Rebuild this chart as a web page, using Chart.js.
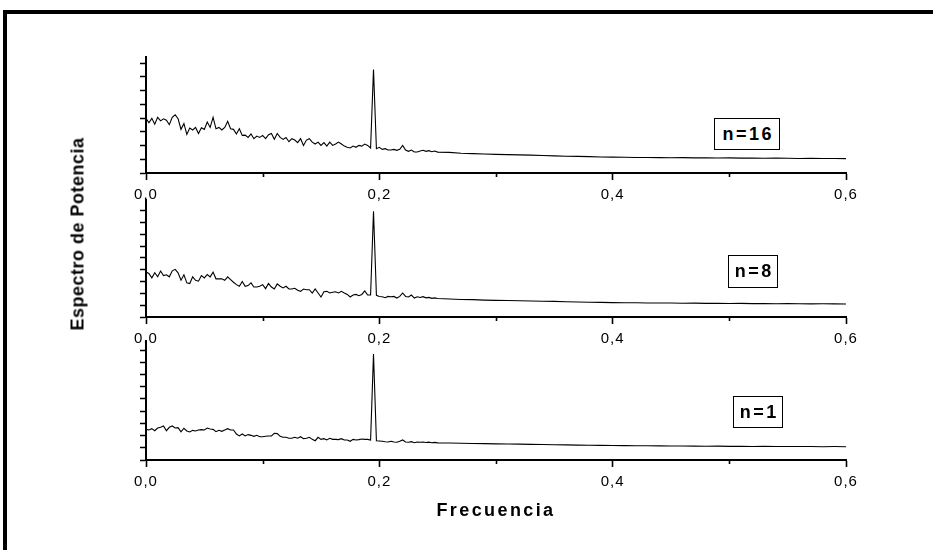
<!DOCTYPE html>
<html lang="es">
<head>
<meta charset="UTF-8" />
<title>Espectro de Potencia</title>
<script src="https://cdn.jsdelivr.net/npm/chart.js"></script>
<style>
  html, body { margin: 0; background: #fff; font-family: "Liberation Sans", Arial, sans-serif; overflow: hidden; }
  #stage { position: relative; width: 933px; height: 550px; overflow: hidden; }
  .bar { position: absolute; background: #000; }
  canvas.panel { position: absolute; left: 0; }
  .title { position: absolute; font-weight: bold; white-space: nowrap; color: #000; }
  .nbox { position: absolute; box-sizing: border-box; border: 1.5px solid #000; background: #fff;
          display: flex; align-items: center; justify-content: center;
          font-weight: bold; font-size: 18px; letter-spacing: 2.5px; padding-left: 2.5px; }
</style>
</head>
<body>
<div id="stage">
  <div class="bar" style="left:3px; top:10px; width:930px; height:4px;"></div>
  <div class="bar" style="left:3px; top:10px; width:4px; height:540px;"></div>
  <canvas id="p16" class="panel" width="933" height="166" style="top:47px"></canvas>
  <canvas id="p8" class="panel" width="933" height="167" style="top:190px"></canvas>
  <canvas id="p1" class="panel" width="933" height="169" style="top:331px"></canvas>

  <div class="title" style="left:78px; top:234px; font-size:18px; letter-spacing:0.5px; transform:translate(-50%,-50%) rotate(-90deg);">Espectro de Potencia</div>
  <div class="title" style="left:496px; top:510px; font-size:18px; letter-spacing:2.4px; transform:translate(-50%,-50%);">Frecuencia</div>

  <div class="nbox" style="left:714px; top:118px; width:66px; height:32px;">n=16</div>
  <div class="nbox" style="left:728px; top:255px; width:50px; height:33px;">n=8</div>
  <div class="nbox" style="left:733px; top:396px; width:50px; height:32px;">n=1</div>
</div>

<script>
  // frequency samples (same for the three spectra)
  const freq = [
    0, 0.0025, 0.005, 0.0075, 0.01, 0.0125, 0.015, 0.0175, 0.02, 0.0225,
    0.025, 0.0275, 0.03, 0.0325, 0.035, 0.0375, 0.04, 0.0425, 0.045, 0.0475,
    0.05, 0.0525, 0.055, 0.0575, 0.06, 0.0625, 0.065, 0.0675, 0.07, 0.0725,
    0.075, 0.0775, 0.08, 0.0825, 0.085, 0.0875, 0.09, 0.0925, 0.095, 0.0975,
    0.1, 0.1025, 0.105, 0.1075, 0.11, 0.1125, 0.115, 0.1175, 0.12, 0.1225,
    0.125, 0.1275, 0.13, 0.1325, 0.135, 0.1375, 0.14, 0.1425, 0.145, 0.1475,
    0.15, 0.1525, 0.155, 0.1575, 0.16, 0.1625, 0.165, 0.1675, 0.17, 0.1725,
    0.175, 0.1775, 0.18, 0.1825, 0.185, 0.1875, 0.19, 0.1925, 0.195, 0.1975,
    0.2, 0.2025, 0.205, 0.2075, 0.21, 0.2125, 0.215, 0.2175, 0.22, 0.2225,
    0.225, 0.2275, 0.23, 0.2325, 0.235, 0.2375, 0.24, 0.2425, 0.245, 0.2475,
    0.25,
    0.26, 0.27, 0.28, 0.29, 0.30, 0.31, 0.32, 0.33, 0.34, 0.35,
    0.36, 0.37, 0.38, 0.39, 0.40, 0.41, 0.42, 0.43, 0.44, 0.45,
    0.46, 0.47, 0.48, 0.49, 0.50, 0.51, 0.52, 0.53, 0.54, 0.55,
    0.56, 0.57, 0.58, 0.59, 0.60
  ];

  const power16 = [
    3.98, 3.66, 3.98, 3.56, 4.05, 3.80, 3.95, 3.85, 3.52, 4.05,
    4.24, 3.95, 3.18, 3.61, 2.81, 3.27, 3.13, 3.32, 2.88, 3.30,
    3.18, 3.71, 3.32, 4.05, 3.22, 3.32, 3.13, 3.32, 3.76, 3.22,
    3.18, 2.84, 3.22, 2.74, 2.76, 2.59, 2.84, 2.50, 2.69, 2.59,
    2.74, 2.50, 2.79, 2.88, 2.45, 2.88, 2.59, 2.45, 2.59, 2.28,
    2.50, 2.40, 2.21, 2.50, 2.01, 2.40, 2.50, 2.25, 2.11, 2.25,
    2.01, 2.21, 1.96, 2.25, 2.01, 2.11, 2.25, 2.11, 1.96, 1.87,
    1.82, 1.96, 1.87, 2.01, 1.96, 2.11, 2.01, 1.82, 7.54, 1.77,
    1.87, 1.72, 1.77, 1.67, 1.67, 1.72, 1.65, 1.72, 2.01, 1.67,
    1.58, 1.67, 1.53, 1.53, 1.60, 1.66, 1.58, 1.63, 1.55, 1.60,
    1.52,
    1.50, 1.44, 1.41, 1.38, 1.36, 1.34, 1.32, 1.30, 1.27, 1.25,
    1.22, 1.21, 1.19, 1.17, 1.16, 1.15, 1.13, 1.13, 1.12, 1.11,
    1.12, 1.10, 1.10, 1.09, 1.10, 1.08, 1.08, 1.07, 1.08, 1.07,
    1.06, 1.07, 1.06, 1.06, 1.05
  ];

  const power8 = [
    3.80, 3.69, 3.31, 3.74, 3.40, 3.89, 3.51, 3.57, 3.40, 3.91,
    4.03, 3.74, 3.11, 3.57, 2.89, 2.83, 3.40, 3.11, 3.03, 3.51,
    3.31, 3.60, 3.40, 3.80, 3.23, 3.23, 3.23, 3.11, 3.40, 3.17,
    2.94, 2.74, 2.60, 3.00, 2.60, 2.66, 2.89, 2.54, 2.54, 2.60,
    2.74, 2.40, 2.83, 2.54, 2.37, 2.80, 2.60, 2.46, 2.60, 2.37,
    2.37, 2.43, 2.26, 2.17, 2.37, 2.31, 2.31, 2.03, 2.37, 2.03,
    1.69, 2.14, 2.17, 2.03, 2.09, 2.14, 2.03, 2.17, 2.03, 1.91,
    1.69, 1.86, 1.91, 1.80, 1.91, 2.20, 1.86, 1.86, 8.94, 1.83,
    1.74, 1.71, 1.63, 1.74, 1.71, 1.74, 1.60, 1.74, 2.03, 1.74,
    1.69, 1.86, 1.60, 1.71, 1.65, 1.72, 1.62, 1.66, 1.58, 1.62,
    1.57,
    1.52, 1.48, 1.47, 1.43, 1.41, 1.40, 1.37, 1.35, 1.33, 1.32,
    1.29, 1.27, 1.25, 1.24, 1.22, 1.21, 1.20, 1.19, 1.18, 1.18,
    1.16, 1.17, 1.15, 1.15, 1.14, 1.15, 1.13, 1.13, 1.12, 1.13,
    1.12, 1.11, 1.12, 1.11, 1.10
  ];

  const power1 = [
    2.51, 2.46, 2.57, 2.40, 2.62, 2.68, 2.79, 2.40, 2.68, 2.79,
    2.62, 2.65, 2.30, 2.60, 2.38, 2.30, 2.43, 2.38, 2.46, 2.49,
    2.46, 2.62, 2.54, 2.51, 2.32, 2.43, 2.35, 2.46, 2.57, 2.46,
    2.46, 2.13, 1.97, 2.13, 1.97, 2.08, 2.02, 1.94, 2.02, 1.91,
    1.91, 1.94, 1.97, 1.97, 2.19, 2.16, 1.94, 1.86, 1.86, 1.78,
    1.78, 1.86, 1.78, 1.91, 1.75, 1.78, 1.86, 1.69, 1.58, 1.86,
    1.69, 1.75, 1.64, 1.78, 1.69, 1.69, 1.67, 1.75, 1.64, 1.64,
    1.53, 1.69, 1.64, 1.67, 1.72, 1.69, 1.69, 1.64, 8.69, 1.58,
    1.56, 1.53, 1.50, 1.48, 1.53, 1.48, 1.45, 1.53, 1.64, 1.48,
    1.45, 1.50, 1.42, 1.48, 1.45, 1.48, 1.43, 1.46, 1.41, 1.44,
    1.40,
    1.39, 1.37, 1.35, 1.34, 1.32, 1.31, 1.30, 1.28, 1.27, 1.25,
    1.24, 1.22, 1.21, 1.20, 1.19, 1.18, 1.17, 1.17, 1.16, 1.15,
    1.15, 1.14, 1.13, 1.14, 1.12, 1.12, 1.11, 1.12, 1.11, 1.10,
    1.10, 1.11, 1.09, 1.10, 1.09
  ];

  const minorFreq = [0.1, 0.3, 0.5];
  const FONT = '"Liberation Sans", Arial, sans-serif';

  const isMajor = v => Math.round(v * 10) % 2 === 0;

  // short minor ticks on the frequency axis + spaced tick labels
  const axisExtras = {
    id: 'axisExtras',
    beforeDraw(chart) {
      chart.ctx.letterSpacing = '1px';
    },
    afterDraw(chart) {
      const { ctx, chartArea, scales } = chart;
      ctx.letterSpacing = '0px';
      ctx.save();
      ctx.strokeStyle = '#000';
      ctx.lineWidth = 1.6;
      minorFreq.forEach(v => {
        const px = Math.round(scales.x.getPixelForValue(v)) + 0.5;
        ctx.beginPath();
        ctx.moveTo(px, chartArea.bottom);
        ctx.lineTo(px, chartArea.bottom + 4);
        ctx.stroke();
      });
      ctx.restore();
    }
  };

  function makePanel(id, power, yMax) {
    new Chart(document.getElementById(id), {
      type: 'line',
      data: {
        datasets: [{
          data: freq.map((f, i) => ({ x: f, y: power[i] })),
          borderColor: '#000',
          borderWidth: 1.1,
          pointRadius: 0,
          tension: 0,
          fill: false
        }]
      },
      options: {
        responsive: false,
        animation: false,
        layout: { padding: { left: 100, right: 87, top: 10, bottom: 0 } },
        plugins: { legend: { display: false }, tooltip: { enabled: false } },
        scales: {
          x: {
            type: 'linear',
            min: 0,
            max: 0.6,
            afterFit: s => { s.height = 40; },
            ticks: {
              stepSize: 0.1,
              autoSkip: false,
              maxRotation: 0,
              padding: 6,
              color: '#000',
              font: { family: FONT, size: 15 },
              callback: v => isMajor(v) ? v.toFixed(1).replace('.', ',') : ''
            },
            grid: {
              drawOnChartArea: false,
              tickLength: 7,
              tickWidth: 1.6,
              tickColor: ctx => isMajor(ctx.tick.value) ? '#000' : 'rgba(0,0,0,0)'
            },
            border: { color: '#000', width: 2 }
          },
          y: {
            min: 0,
            max: yMax,
            afterFit: s => { s.width = 46; },
            ticks: { display: false, stepSize: 1, includeBounds: false },
            grid: { drawOnChartArea: false, tickLength: 6, tickWidth: 1.5, tickColor: '#000' },
            border: { color: '#000', width: 2 }
          }
        }
      },
      plugins: [axisExtras]
    });
  }

  makePanel('p16', power16, 8.45);
  makePanel('p8', power8, 9.9);
  makePanel('p1', power1, 9.75);
</script>
</body>
</html>
